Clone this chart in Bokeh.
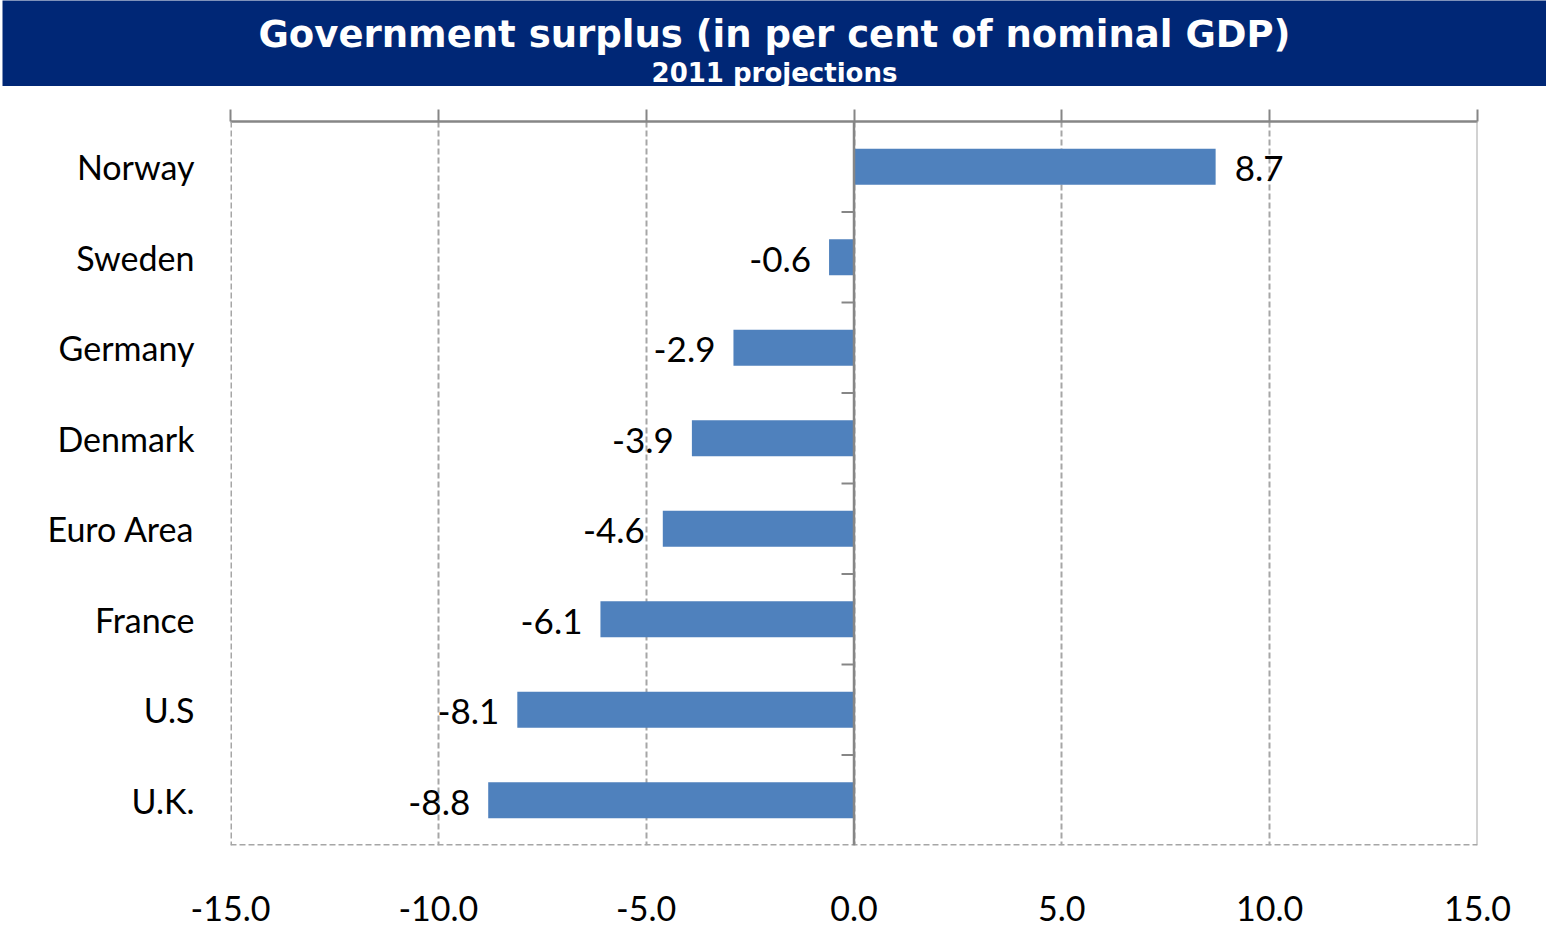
from bokeh.plotting import figure
from bokeh.layouts import column
from bokeh.models import Range1d, FixedTicker, NumeralTickFormatter, CustomJSTickFormatter, LinearAxis, Span, ColumnDataSource
from bokeh.core.properties import value
from bokeh.embed import file_html
from bokeh.resources import INLINE

title_text = "Government surplus (in per cent of nominal GDP)"
subtitle_text = "2011 projections"
countries = ["Norway", "Sweden", "Germany", "Denmark", "Euro Area", "France", "U.S", "U.K."]
surplus = [8.7, -0.6, -2.9, -3.9, -4.6, -6.1, -8.1, -8.8]
x_ticks = [-15, -10, -5, 0, 5, 10, 15]

NAVY = "#002776"
BAR = "#4F81BD"
GRID = "#a6a6a6"
AXIS = "#868686"
LABEL_FONT = "Lato"

# ---- title bar ----
top = figure(width=1544, height=86, x_range=Range1d(0, 1544), y_range=Range1d(86, 0),
             output_backend="svg", toolbar_location=None, min_border=0,
             background_fill_color=NAVY, border_fill_color=NAVY, outline_line_color=None,
             margin=(0, 0, 0, 2), frame_align=False)
top.axis.visible = False
top.grid.visible = False
top.text(x=[772], y=[34], text=[title_text], text_color="white", text_font=value("DejaVu Sans"),
         text_font_style="bold", text_font_size="37px", text_align="center", text_baseline="middle")
top.text(x=[772], y=[72], text=[subtitle_text], text_color="white", text_font=value("DejaVu Sans"),
         text_font_style="bold", text_font_size="26px", text_align="center", text_baseline="middle")

# ---- main chart ----
n = len(countries)
ypos = list(range(n))
p = figure(width=1546, height=843, x_range=Range1d(-15, 15), y_range=Range1d(n - 0.5, -0.5),
           output_backend="svg", toolbar_location=None, frame_align=False,
           min_border_left=230, min_border_right=69, min_border_top=35, min_border_bottom=84,
           background_fill_color="white", border_fill_color="white", outline_line_color=None)

# grid
p.xaxis.ticker = FixedTicker(ticks=x_ticks)
p.xgrid.ticker = FixedTicker(ticks=x_ticks)
p.xgrid.grid_line_color = GRID
p.xgrid.grid_line_dash = "6 3"
p.xgrid.grid_line_width = 2
p.ygrid.visible = False

# bottom axis (labels only)
p.xaxis.formatter = NumeralTickFormatter(format="0.0")
p.xaxis.axis_line_color = None
p.xaxis.major_tick_line_color = None
p.xaxis.minor_tick_line_color = None
p.xaxis.major_label_standoff = 44
p.xaxis.major_label_text_font = LABEL_FONT
p.xaxis.major_label_text_font_size = "34px"
p.xaxis.major_label_text_color = "black"

# top axis (line + ticks only)
ax_top = LinearAxis(ticker=FixedTicker(ticks=x_ticks), formatter=CustomJSTickFormatter(code="return ''"),
                    axis_line_color=AXIS, axis_line_width=2.5,
                    major_tick_line_color=AXIS, major_tick_line_width=2,
                    major_tick_out=12, major_tick_in=0, minor_tick_line_color=None,
                    major_label_text_font_size="1px")
p.add_layout(ax_top, "above")

# left axis (category labels)
p.yaxis.ticker = FixedTicker(ticks=ypos)
p.yaxis.major_label_overrides = {i: c for i, c in zip(ypos, countries)}
p.yaxis.axis_line_color = None
p.yaxis.major_tick_line_color = None
p.yaxis.minor_tick_line_color = None
p.yaxis.major_label_standoff = 30
p.yaxis.major_label_text_font = LABEL_FONT
p.yaxis.major_label_text_font_size = "34px"
p.yaxis.major_label_text_color = "black"

# frame edges
p.add_layout(Span(location=15, dimension="height", line_color=GRID, line_width=2))
p.add_layout(Span(location=-15, dimension="height", line_color=GRID, line_width=3, line_dash="6 3"))
p.add_layout(Span(location=n - 0.5, dimension="width", line_color=GRID, line_width=3, line_dash="6 3"))

# bars
src = ColumnDataSource(dict(y=ypos, v=surplus))
p.hbar(y="y", right="v", left=0, height=0.4, source=src, fill_color=BAR, line_color=None)

# zero axis with category boundary ticks
p.add_layout(Span(location=0, dimension="height", line_color=AXIS, line_width=2.5))
bounds = [i + 0.5 for i in range(n - 1)]
p.segment(x0=[-0.3] * len(bounds), x1=[0] * len(bounds), y0=bounds, y1=bounds,
          line_color=AXIS, line_width=2)

# data labels
pos = ColumnDataSource(dict(y=[y for y, v in zip(ypos, surplus) if v >= 0],
                            v=[v for v in surplus if v >= 0],
                            lab=[f"{v:.1f}" for v in surplus if v >= 0]))
neg = ColumnDataSource(dict(y=[y for y, v in zip(ypos, surplus) if v < 0],
                            v=[v for v in surplus if v < 0],
                            lab=[f"{v:.1f}" for v in surplus if v < 0]))
p.text(x="v", y="y", text="lab", source=pos, x_offset=19, y_offset=2, text_align="left",
       text_baseline="middle", text_font=value(LABEL_FONT), text_font_size="35px", text_color="black")
p.text(x="v", y="y", text="lab", source=neg, x_offset=-18, y_offset=2, text_align="right",
       text_baseline="middle", text_font=value(LABEL_FONT), text_font_size="35px", text_color="black")

layout = column(top, p, spacing=0)
open("out.html", "w").write(file_html(layout, INLINE))
